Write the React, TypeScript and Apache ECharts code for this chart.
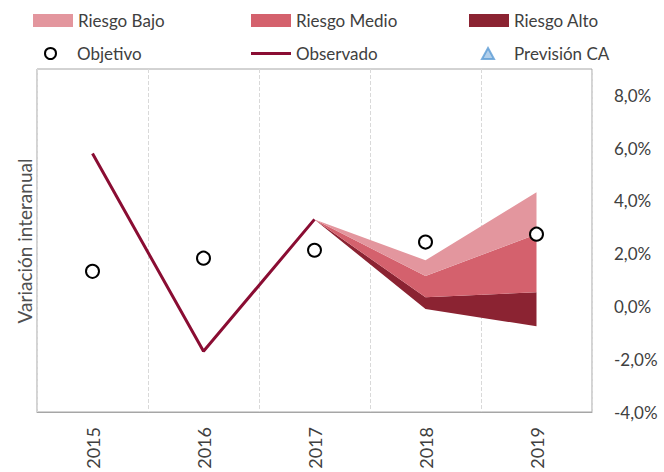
import React, { useEffect, useRef } from "react";
import * as echarts from "echarts";

const years = ["2015", "2016", "2017", "2018", "2019"];
const observado = [5.8, -1.7, 3.3, null, null];
const objetivo = [1.33, 1.83, 2.13, 2.44, 2.74];
// fan chart bounds (from 2017 onwards)
const altoLow = [null, null, 3.3, -0.1, -0.75];
const altoHigh = [null, null, 3.3, 0.35, 0.54];
const medioHigh = [null, null, 3.3, 1.15, 2.74];
const bajoHigh = [null, null, 3.3, 1.75, 4.33];
const previsionCA: (number | null)[] = [];
const yTicks = [-4, -2, 0, 2, 4, 6, 8];

const FONT = "Lato";
const TXT = "#404040";
const C_BAJO = "#E3969E";
const C_MEDIO = "#D4616D";
const C_ALTO = "#8B2332";
const C_OBS = "#8A0D33";

const diff = (a: (number | null)[], b: (number | null)[]) =>
  a.map((v, i) => (v == null || b[i] == null ? "-" : +((v as number) - (b[i] as number)).toFixed(3)));

export default function App() {
  const ref = useRef<HTMLDivElement>(null);
  useEffect(() => {
    document.body.style.margin = "0";
    const chart = echarts.init(ref.current!, null, { renderer: "svg" });
    const legendBase = {
      padding: 0,
      textStyle: { fontFamily: FONT, fontSize: 17, color: TXT },
      selectedMode: false,
    };
    chart.setOption({
      animation: false,
      textStyle: { fontFamily: FONT },
      grid: {
        left: 37,
        right: 72,
        top: 69,
        bottom: 60,
        show: true,
        borderColor: "#A6A6A6",
        borderWidth: 1,
      },
      legend: [
        { ...legendBase, data: [{ name: "Riesgo Bajo", icon: "rect" }], left: 33, top: 12, itemWidth: 40, itemHeight: 13 },
        { ...legendBase, data: [{ name: "Riesgo Medio", icon: "rect" }], left: 251, top: 12, itemWidth: 40, itemHeight: 13 },
        { ...legendBase, data: [{ name: "Riesgo Alto", icon: "rect" }], left: 469, top: 12, itemWidth: 40, itemHeight: 13 },
        {
          ...legendBase,
          data: [{ name: "Objetivo", icon: "circle" }],
          left: 44,
          top: 45,
          itemWidth: 11,
          itemHeight: 11,
          textStyle: { ...legendBase.textStyle, padding: [0, 0, 0, 16] },
        },
        {
          ...legendBase,
          data: [{ name: "Observado", icon: "rect" }],
          left: 251,
          top: 45,
          itemWidth: 40,
          itemHeight: 3,
        },
        {
          ...legendBase,
          data: [{ name: "Previsión CA", icon: "triangle" }],
          left: 481,
          top: 45,
          itemWidth: 12,
          itemHeight: 11,
          textStyle: { ...legendBase.textStyle, padding: [0, 0, 0, 15] },
        },
      ],
      xAxis: {
        type: "category",
        data: years,
        boundaryGap: true,
        axisLine: { show: true, onZero: false, lineStyle: { color: "#A6A6A6" } },
        axisTick: { show: false },
        axisLabel: { rotate: 90, margin: 15, fontSize: 18, color: TXT, fontFamily: FONT },
        splitLine: { show: true, lineStyle: { type: "dashed", color: "#D9D9D9", width: 1 } },
      },
      yAxis: {
        type: "value",
        position: "right",
        min: -4,
        max: 9,
        interval: 2,
        axisLine: { show: false },
        axisTick: { show: false },
        splitLine: { show: false },
        axisLabel: {
          margin: 22,
          fontSize: 17,
          color: TXT,
          fontFamily: FONT,
          formatter: (v: number) => (yTicks.includes(v) ? v.toFixed(1).replace(".", ",") + "%" : ""),
        },
      },
      graphic: [
        {
          type: "text",
          x: 24,
          y: 241,
          rotation: Math.PI / 2,
          style: {
            text: "Variación interanual",
            fontSize: 19,
            fontFamily: FONT,
            fill: "#505050",
            align: "center",
            verticalAlign: "middle",
          },
        },
      ],
      series: [
        {
          name: "base",
          type: "line",
          stack: "fan",
          stackStrategy: "all",
          data: altoLow.map((v) => (v == null ? "-" : v)),
          symbol: "none",
          lineStyle: { opacity: 0, width: 0 },
          silent: true,
          z: 1,
        },
        {
          name: "Riesgo Alto",
          type: "line",
          stack: "fan",
          stackStrategy: "all",
          data: diff(altoHigh, altoLow),
          symbol: "none",
          itemStyle: { color: C_ALTO },
          lineStyle: { width: 0, color: C_ALTO },
          areaStyle: { color: C_ALTO, opacity: 1 },
          z: 1,
        },
        {
          name: "Riesgo Medio",
          type: "line",
          stack: "fan",
          stackStrategy: "all",
          data: diff(medioHigh, altoHigh),
          symbol: "none",
          itemStyle: { color: C_MEDIO },
          lineStyle: { width: 0, color: C_MEDIO },
          areaStyle: { color: C_MEDIO, opacity: 1 },
          z: 1,
        },
        {
          name: "Riesgo Bajo",
          type: "line",
          stack: "fan",
          stackStrategy: "all",
          data: diff(bajoHigh, medioHigh),
          symbol: "none",
          itemStyle: { color: C_BAJO },
          lineStyle: { width: 0, color: C_BAJO },
          areaStyle: { color: C_BAJO, opacity: 1 },
          z: 1,
        },
        {
          name: "Observado",
          type: "line",
          data: observado.map((v) => (v == null ? "-" : v)),
          symbol: "none",
          itemStyle: { color: C_OBS },
          lineStyle: { width: 3, color: C_OBS },
          z: 3,
        },
        {
          name: "Objetivo",
          type: "scatter",
          data: objetivo,
          symbol: "circle",
          symbolSize: 13,
          itemStyle: { color: "#FFFFFF", borderColor: "#000000", borderWidth: 2, opacity: 1 },
          z: 4,
        },
        {
          name: "Previsión CA",
          type: "scatter",
          data: previsionCA,
          symbol: "triangle",
          symbolSize: 11,
          itemStyle: { color: "#9DC3E6", borderColor: "#5B9BD5", borderWidth: 1 },
          z: 4,
        },
      ],
    });
    return () => chart.dispose();
  }, []);
  return <div ref={ref} style={{ width: 664, height: 472 }} />;
}
